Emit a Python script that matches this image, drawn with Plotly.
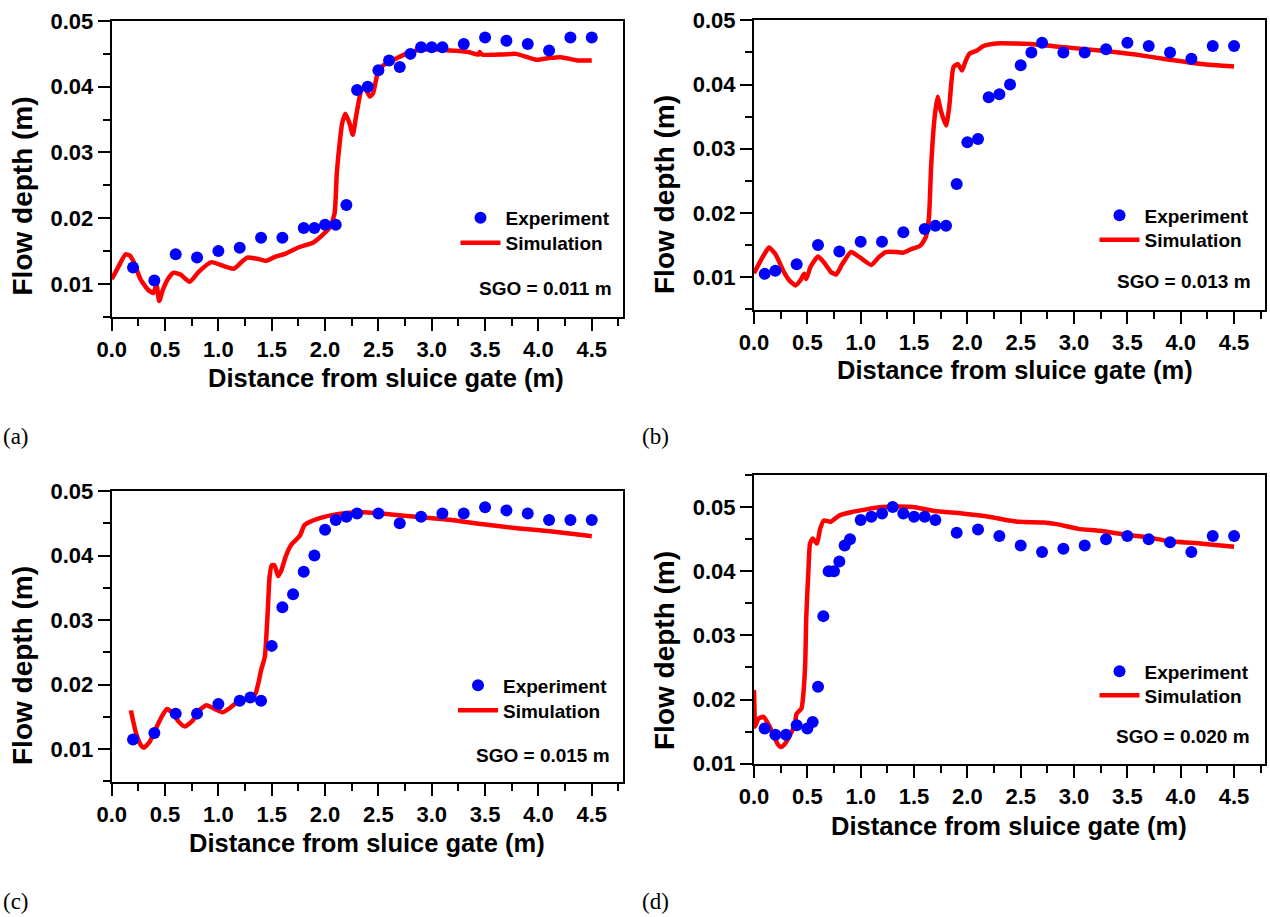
import plotly.graph_objects as go

W, H = 1270, 917

# ---------------- data ----------------
a_exp_x = [0.2, 0.4, 0.6, 0.8, 1.0, 1.2, 1.4, 1.6, 1.8, 1.9, 2.0, 2.1, 2.2, 2.3, 2.4, 2.5, 2.6, 2.7, 2.8, 2.9,
           3.0, 3.1, 3.3, 3.5, 3.7, 3.9, 4.1, 4.3, 4.5]
a_exp_y = [0.0125, 0.0105, 0.0145, 0.014, 0.015, 0.0155, 0.017, 0.017, 0.0185, 0.0185, 0.019, 0.019, 0.022,
           0.0395, 0.040, 0.0425, 0.044, 0.043, 0.045, 0.046, 0.046, 0.046, 0.0465, 0.0475, 0.047, 0.0465,
           0.0455, 0.0475, 0.0475]
a_sim_x = [0.0, 0.06, 0.13, 0.17, 0.21, 0.27, 0.34, 0.39, 0.42, 0.445, 0.48, 0.53, 0.58, 0.645, 0.73, 0.82,
           0.935, 1.05, 1.145, 1.21, 1.27, 1.37, 1.45, 1.53, 1.63, 1.76, 1.89, 1.98, 2.05, 2.09, 2.11, 2.14,
           2.16, 2.19, 2.23, 2.26, 2.29, 2.34, 2.37, 2.42, 2.45, 2.50, 2.55, 2.63, 2.76, 2.85, 3.02, 3.18,
           3.34, 3.44, 3.45, 3.47, 3.66, 3.79, 3.98, 4.11, 4.21, 4.37, 4.50]
a_sim_y = [0.0107, 0.0125, 0.0145, 0.0143, 0.0132, 0.0107, 0.0091, 0.0086, 0.0099, 0.0074, 0.0091, 0.0108,
           0.0117, 0.0114, 0.0103, 0.0119, 0.0133, 0.0127, 0.0123, 0.0132, 0.0140, 0.0138, 0.0135, 0.0141,
           0.0146, 0.0156, 0.0163, 0.0175, 0.0187, 0.0208, 0.0268, 0.0319, 0.0344, 0.0359, 0.0344, 0.0327,
           0.0354, 0.0395, 0.0399, 0.0385, 0.0390, 0.0425, 0.0433, 0.0440, 0.0450, 0.0455, 0.0457, 0.0455,
           0.0453, 0.0449, 0.0453, 0.0449, 0.0449, 0.0450, 0.0441, 0.0444, 0.0445, 0.0440, 0.0440]

b_exp_x = [0.1, 0.2, 0.4, 0.6, 0.8, 1.0, 1.2, 1.4, 1.6, 1.7, 1.8, 1.9, 2.0, 2.1, 2.2, 2.3, 2.4, 2.5, 2.6, 2.7,
           2.9, 3.1, 3.3, 3.5, 3.7, 3.9, 4.1, 4.3, 4.5]
b_exp_y = [0.0105, 0.011, 0.012, 0.015, 0.014, 0.0155, 0.0155, 0.017, 0.0175, 0.018, 0.018, 0.0245, 0.031,
           0.0315, 0.038, 0.0385, 0.040, 0.043, 0.045, 0.0465, 0.045, 0.045, 0.0455, 0.0465, 0.046, 0.045,
           0.044, 0.046, 0.046]
b_sim_x = [0.0, 0.074, 0.14, 0.2, 0.28, 0.33, 0.39, 0.435, 0.47, 0.49, 0.53, 0.6, 0.655, 0.72, 0.77, 0.83,
           0.91, 0.99, 1.1, 1.17, 1.235, 1.33, 1.4, 1.48, 1.56, 1.61, 1.64, 1.66, 1.69, 1.72, 1.75, 1.8, 1.83,
           1.87, 1.91, 1.95, 1.98, 2.02, 2.09, 2.15, 2.27, 2.43, 2.59, 2.91, 3.24, 3.56, 3.88, 4.2, 4.5]
b_sim_y = [0.0106, 0.0129, 0.0146, 0.0136, 0.0108, 0.0095, 0.0087, 0.0095, 0.0105, 0.0097, 0.0116, 0.0132,
           0.0123, 0.0108, 0.0104, 0.0121, 0.0139, 0.0131, 0.0119, 0.0131, 0.0139, 0.0139, 0.0138, 0.0144,
           0.0149, 0.0162, 0.0193, 0.0271, 0.0344, 0.0381, 0.0360, 0.0336, 0.0365, 0.0427, 0.0432, 0.0422,
           0.0435, 0.0448, 0.0453, 0.0460, 0.0464, 0.0464, 0.0463, 0.0458, 0.0453, 0.0447, 0.0439, 0.0432,
           0.0428]

c_exp_x = [0.2, 0.4, 0.6, 0.8, 1.0, 1.2, 1.3, 1.4, 1.5, 1.6, 1.7, 1.8, 1.9, 2.0, 2.1, 2.2, 2.3, 2.5, 2.7, 2.9,
           3.1, 3.3, 3.5, 3.7, 3.9, 4.1, 4.3, 4.5]
c_exp_y = [0.0115, 0.0125, 0.0155, 0.0155, 0.017, 0.0175, 0.018, 0.0175, 0.026, 0.032, 0.034, 0.0375, 0.040,
           0.044, 0.0455, 0.046, 0.0465, 0.0465, 0.045, 0.046, 0.0465, 0.0465, 0.0475, 0.047, 0.0465, 0.0455,
           0.0455, 0.0455]
c_sim_x = [0.18, 0.226, 0.274, 0.3, 0.355, 0.42, 0.474, 0.516, 0.565, 0.63, 0.687, 0.758, 0.82, 0.887, 0.968,
           1.04, 1.11, 1.18, 1.24, 1.31, 1.35, 1.38, 1.40, 1.435, 1.46, 1.48, 1.5, 1.526, 1.56, 1.59, 1.63,
           1.68, 1.726, 1.765, 1.806, 1.855, 1.95, 2.11, 2.34, 2.53, 2.85, 3.18, 3.5, 3.82, 4.15, 4.5]
c_sim_y = [0.0160, 0.0126, 0.0106, 0.0102, 0.0111, 0.0134, 0.0152, 0.0162, 0.0157, 0.0142, 0.0135, 0.0144,
           0.0160, 0.0168, 0.0162, 0.0157, 0.0164, 0.0173, 0.0176, 0.0179, 0.0187, 0.0206, 0.0222, 0.0243,
           0.0305, 0.0367, 0.0385, 0.0385, 0.0368, 0.0377, 0.0398, 0.0416, 0.0424, 0.0431, 0.0447, 0.0452,
           0.0458, 0.0464, 0.0467, 0.0465, 0.0460, 0.0455, 0.0448, 0.0442, 0.0437, 0.0430]

d_exp_x = [0.1, 0.2, 0.3, 0.4, 0.5, 0.55, 0.6, 0.65, 0.7, 0.75, 0.8, 0.85, 0.9, 1.0, 1.1, 1.2, 1.3, 1.4, 1.5,
           1.6, 1.7, 1.9, 2.1, 2.3, 2.5, 2.7, 2.9, 3.1, 3.3, 3.5, 3.7, 3.9, 4.1, 4.3, 4.5]
d_exp_y = [0.0155, 0.0145, 0.0145, 0.016, 0.0155, 0.0165, 0.022, 0.033, 0.040, 0.040, 0.0415, 0.044, 0.045,
           0.048, 0.0485, 0.049, 0.050, 0.049, 0.0485, 0.0485, 0.048, 0.046, 0.0465, 0.0455, 0.044, 0.043,
           0.0435, 0.044, 0.045, 0.0455, 0.045, 0.0445, 0.043, 0.0455, 0.0455]
d_sim_x = [0.0, 0.005, 0.01, 0.04, 0.09, 0.14, 0.19, 0.22, 0.25, 0.28, 0.33, 0.38, 0.40, 0.445, 0.46, 0.48,
           0.49, 0.51, 0.525, 0.55, 0.59, 0.62, 0.655, 0.72, 0.8, 0.91, 1.04, 1.2, 1.36, 1.49, 1.69, 1.95,
           2.2, 2.36, 2.49, 2.72, 2.85, 3.04, 3.24, 3.49, 3.69, 3.88, 4.2, 4.5]
d_sim_y = [0.0215, 0.0180, 0.0158, 0.0170, 0.0173, 0.0160, 0.0142, 0.0131, 0.0126, 0.0129, 0.0142, 0.0160,
           0.0178, 0.0186, 0.0204, 0.0256, 0.0329, 0.0401, 0.0443, 0.0451, 0.0443, 0.0466, 0.0479, 0.0477,
           0.0487, 0.0492, 0.0496, 0.0500, 0.0501, 0.0500, 0.0494, 0.0490, 0.0485, 0.0480, 0.0477, 0.0476,
           0.0473, 0.0466, 0.0463, 0.0457, 0.0453, 0.0447, 0.0443, 0.0438]

sgo_labels = ["SGO = 0.011 m", "SGO = 0.013 m", "SGO = 0.015 m", "SGO = 0.020 m"]
panel_labels = ["(a)", "(b)", "(c)", "(d)"]
x_title = "Distance from sluice gate (m)"
y_title = "Flow depth (m)"
x_ticks = [0.0, 0.5, 1.0, 1.5, 2.0, 2.5, 3.0, 3.5, 4.0, 4.5]

# ---------------- layout geometry (pixels) ----------------
boxes = [(111.7, 622.7, 20.7, 317.0), (754.0, 1265.0, 20.0, 309.5),
         (111.7, 622.7, 490.7, 781.7), (754.0, 1265.0, 475.0, 764.0)]
y_ranges = [[0.00495, 0.05005], [0.00495, 0.05005], [0.00495, 0.05005], [0.00995, 0.055]]

FONT = "Liberation Sans, Arial, sans-serif"
BLUE = "#0000ff"
RED = "#ff0000"


def px(x):
    return x / W


def py(y):
    return 1 - y / H


fig = go.Figure()
series = [(a_exp_x, a_exp_y, a_sim_x, a_sim_y), (b_exp_x, b_exp_y, b_sim_x, b_sim_y),
          (c_exp_x, c_exp_y, c_sim_x, c_sim_y), (d_exp_x, d_exp_y, d_sim_x, d_sim_y)]

# legend: marker centre x, experiment row y, simulation row y
legend_pos = [(480.5, 218.0, 243.0), (1119.5, 215.5, 240.0), (478.0, 685.5, 710.5), (1119.5, 671.5, 695.5)]
sgo_pos = [(614.0, 289.0), (1253.0, 281.0), (612.0, 755.0), (1252.0, 736.0)]
ytitle_pos = [(22.0, 196.5), (664.0, 195.0), (22.0, 666.0), (664.0, 651.0)]
xtitle_pos = [(386.0, 378.0), (1015.0, 370.0), (367.0, 843.0), (1009.0, 826.0)]
plabel_pos = [(1.0, 436.0), (640.0, 436.0), (1.0, 901.0), (640.0, 901.0)]

legend_font = dict(family=FONT, size=19, color="black", weight="bold")
annotations = []
legend_layouts = {}
for i, (ex, ey, sx, sy) in enumerate(series):
    k = "" if i == 0 else str(i + 1)
    lg_exp = "legend" if i == 0 else "legend" + str(2 * i + 1)
    lg_sim = "legend" + str(2 * i + 2)
    fig.add_trace(go.Scatter(x=sx, y=sy, mode="lines", name="Simulation",
                             line=dict(color=RED, width=4.5, shape="spline", smoothing=0.5),
                             xaxis="x" + k, yaxis="y" + k, legend=lg_sim))
    fig.add_trace(go.Scatter(x=ex, y=ey, mode="markers", name="Experiment",
                             marker=dict(color=BLUE, size=12, line=dict(width=0)),
                             xaxis="x" + k, yaxis="y" + k, legend=lg_exp))
    l, r, t, b = boxes[i]
    common = dict(showline=True, linewidth=2, linecolor="black", mirror=True, showgrid=False,
                  zeroline=False, ticks="outside", ticklen=12, tickwidth=2, tickcolor="black",
                  tickfont=dict(family=FONT, size=22, color="black", weight="bold"))
    fig.layout["xaxis" + k] = dict(common, domain=[px(l), px(r)], range=[0, 4.79],
                                   tickvals=x_ticks, tickformat=".1f", anchor="y" + k,
                                   minor=dict(dtick=0.25, tick0=0, ticklen=7, tickwidth=2,
                                              ticks="outside", tickcolor="black"))
    fig.layout["yaxis" + k] = dict(common, domain=[py(b), py(t)], range=y_ranges[i],
                                   dtick=0.01, tick0=0, tickformat=".2f", anchor="x" + k,
                                   minor=dict(dtick=0.005, tick0=0, ticklen=7, tickwidth=2,
                                              ticks="outside", tickcolor="black"))
    mx, ry1, ry2 = legend_pos[i]
    for lg, ry in ((lg_exp, ry1), (lg_sim, ry2)):
        legend_layouts[lg] = dict(x=px(mx - 25), y=py(ry), xanchor="left", yanchor="middle",
                                  xref="paper", yref="paper", bgcolor="rgba(0,0,0,0)", borderwidth=0,
                                  font=legend_font, itemwidth=40, tracegroupgap=0)
    sxp, syp = sgo_pos[i]
    annotations.append(dict(x=px(sxp), y=py(syp), xref="paper", yref="paper", text=sgo_labels[i],
                            showarrow=False, xanchor="right", yanchor="middle",
                            font=dict(family=FONT, size=19, color="black", weight="bold")))
    tx, ty = ytitle_pos[i]
    annotations.append(dict(x=px(tx), y=py(ty), xref="paper", yref="paper", text=y_title,
                            showarrow=False, textangle=-90, xanchor="center", yanchor="middle",
                            font=dict(family=FONT, size=28, color="black", weight="bold")))
    tx, ty = xtitle_pos[i]
    annotations.append(dict(x=px(tx), y=py(ty), xref="paper", yref="paper", text=x_title,
                            showarrow=False, xanchor="center", yanchor="middle",
                            font=dict(family=FONT, size=25.5, color="black", weight="bold")))
    tx, ty = plabel_pos[i]
    annotations.append(dict(x=px(tx), y=py(ty), xref="paper", yref="paper", text=panel_labels[i],
                            showarrow=False, xanchor="left", yanchor="middle",
                            font=dict(family="Liberation Serif, Times New Roman, serif", size=23,
                                      color="black")))

fig.update_layout(width=W, height=H, margin=dict(l=0, r=0, t=0, b=0, pad=0, autoexpand=False),
                  paper_bgcolor="white", plot_bgcolor="white", annotations=annotations,
                  showlegend=True, **legend_layouts)

fig.write_html("out.html", config={"displayModeBar": False},
               post_script="document.body.style.margin='0';")
